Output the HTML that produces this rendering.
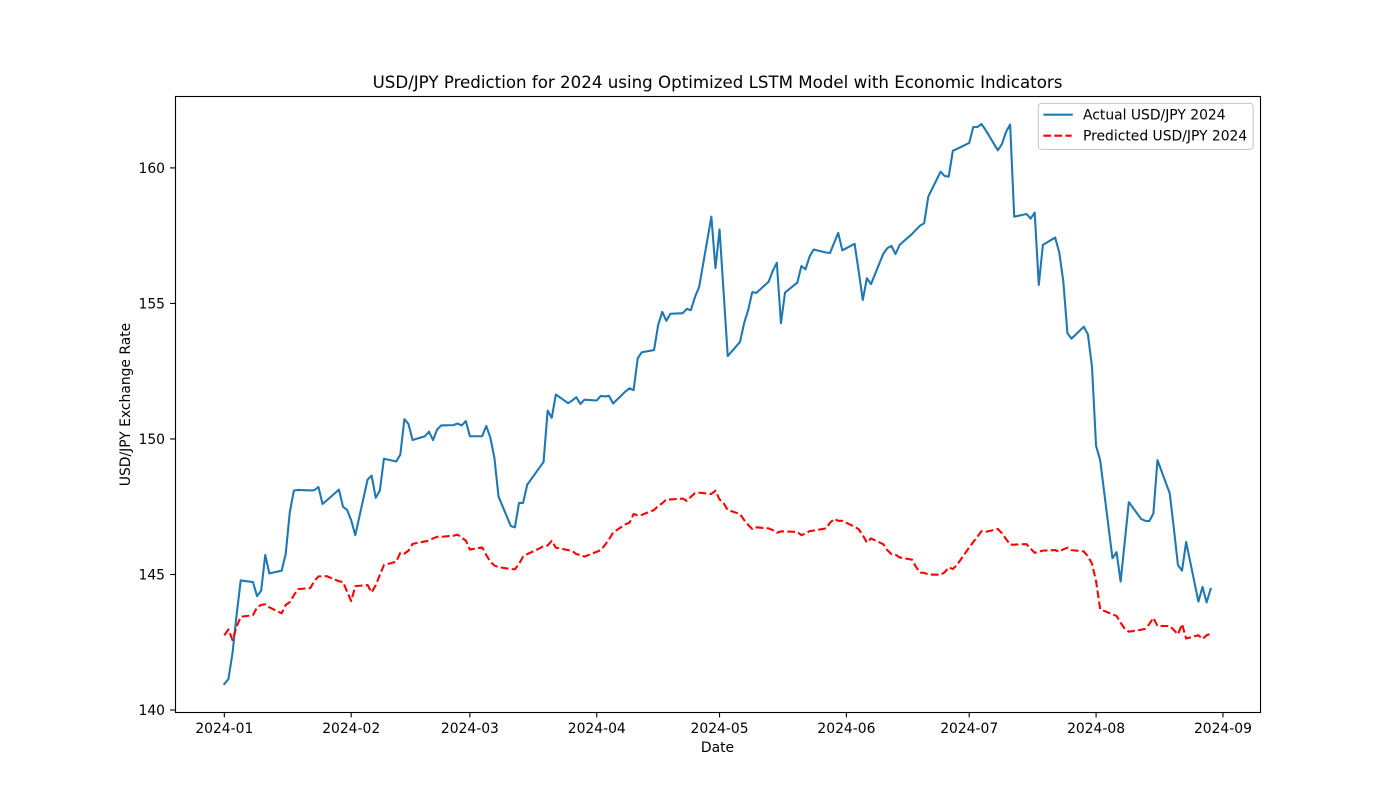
<!DOCTYPE html>
<html lang="en">
<head>
<meta charset="utf-8">
<title>USD/JPY Prediction for 2024</title>
<style>
  html, body { margin: 0; padding: 0; background: #fff; }
  svg { display: block; font-family: "DejaVu Sans", "Liberation Sans", sans-serif; fill: #000; }
</style>
</head>
<body>
<svg id="chart" width="1400" height="800" viewBox="0 0 1400 800" xmlns="http://www.w3.org/2000/svg">
  <rect x="0" y="0" width="1400" height="800" fill="#ffffff"/>
  <text x="717.5" y="88" font-size="16.67" text-anchor="middle">USD/JPY Prediction for 2024 using Optimized LSTM Model with Economic Indicators</text>
  <g id="ticks"></g>
  <g id="series"></g>
  <rect x="175.5" y="96.5" width="1085" height="616" fill="none" stroke="#000" stroke-width="1.11"/>
  <text x="717.5" y="752" font-size="13.89" text-anchor="middle">Date</text>
  <text x="0" y="0" font-size="13.89" text-anchor="middle" transform="translate(130 404.5) rotate(-90)">USD/JPY Exchange Rate</text>
  <g>
    <rect x="1038.4" y="103.4" width="214.8" height="46" rx="3" ry="3" fill="#fff" fill-opacity="0.8" stroke="#cccccc" stroke-width="1.11"/>
    <line x1="1044.4" y1="114.7" x2="1071.7" y2="114.7" stroke="#1f77b4" stroke-width="2.08" stroke-linecap="square"/>
    <text x="1083" y="119.5" font-size="13.89">Actual USD/JPY 2024</text>
    <line x1="1043.4" y1="135.7" x2="1071.7" y2="135.7" stroke="#ff0000" stroke-width="2.08" stroke-dasharray="7.7 3.33"/>
    <text x="1083" y="140.5" font-size="13.89">Predicted USD/JPY 2024</text>
  </g>
</svg>
<script>
const dayOfYear = [
  0,1,2,3,4, 7,8,9,10,11, 14,15,16,17,18, 21,22,23,24,25, 28,29,30,31,32,
  35,36,37,38,39, 42,43,44,45,46, 49,50,51,52,53, 56,57,58,59,60,
  63,64,65,66,67, 70,71,72,73,74, 77,78,79,80,81, 84,85,86,87,88,
  91,92,93,94,95, 98,99,100,101,102, 105,106,107,108,109, 112,113,114,115,116,
  119,120,121,122,123, 126,127,128,129,130, 133,134,135,136,137, 140,141,142,143,144,
  147,148,149,150,151, 154,155,156,157,158, 161,162,163,164,165, 168,169,170,171,172,
  175,176,177,178,179, 182,183,184,185,186, 189,190,191,192,193, 196,197,198,199,200,
  203,204,205,206,207, 210,211,212,213,214, 217,218,219,220,221, 224,225,226,227,228,
  231,232,233,234,235, 238,239,240,241
];
const actualValues = [
  140.96,141.14,142.1,143.5,144.78,
  144.72,144.2,144.4,145.72,145.04,
  145.14,145.76,147.3,148.1,148.12,
  148.1,148.11,148.23,147.6,147.73,
  148.13,147.5,147.38,147.0,146.45,
  148.5,148.65,147.83,148.1,149.27,
  149.17,149.42,150.73,150.55,149.96,
  150.1,150.27,149.96,150.35,150.5,
  150.51,150.57,150.5,150.66,150.1,
  150.1,150.48,150.05,149.29,147.87,
  146.79,146.74,147.64,147.64,148.31,
  148.94,149.15,151.05,150.78,151.64,
  151.32,151.42,151.54,151.29,151.45,
  151.42,151.59,151.57,151.59,151.31,
  151.75,151.87,151.8,152.97,153.2,
  153.28,154.2,154.69,154.36,154.62,
  154.64,154.8,154.75,155.24,155.6,
  158.2,156.3,157.73,155.4,153.06,
  153.58,154.27,154.76,155.42,155.39,
  155.8,156.2,156.5,154.27,155.4,
  155.77,156.38,156.26,156.73,156.99,
  156.88,156.86,157.24,157.6,156.96,
  157.2,156.18,155.13,155.93,155.71,
  156.83,157.04,157.12,156.82,157.16,
  157.56,157.72,157.87,157.96,158.94,
  159.86,159.7,159.68,160.63,160.7,
  160.92,161.51,161.51,161.62,161.4,
  160.65,160.88,161.33,161.6,158.2,
  158.3,158.13,158.35,155.68,157.16,
  157.43,156.88,155.8,153.9,153.7,
  154.14,153.86,152.67,149.74,149.22,
  145.6,145.82,144.74,146.2,147.67,
  147.05,146.98,146.97,147.25,149.22,
  147.99,146.7,145.35,145.14,146.2,
  144.0,144.54,143.97,144.47
];
const predictedValues = [
  142.76,142.97,142.58,143.07,143.44,
  143.5,143.79,143.88,143.9,143.79,
  143.57,143.88,143.98,144.24,144.46,
  144.5,144.76,144.93,144.93,144.94,
  144.75,144.72,144.37,144.02,144.57,
  144.61,144.34,144.61,144.98,145.35,
  145.47,145.8,145.77,145.88,146.13,
  146.22,146.25,146.33,146.39,146.39,
  146.43,146.47,146.36,146.25,145.92,
  146.0,145.72,145.47,145.33,145.27,
  145.2,145.19,145.39,145.66,145.75,
  145.96,146.05,146.07,146.24,145.99,
  145.9,145.87,145.75,145.72,145.66,
  145.84,145.9,146.09,146.3,146.55,
  146.85,146.91,147.23,147.18,147.2,
  147.38,147.53,147.63,147.77,147.77,
  147.8,147.72,147.87,148.0,148.02,
  147.97,148.09,147.77,147.63,147.38,
  147.23,147.01,146.83,146.68,146.74,
  146.7,146.64,146.54,146.59,146.59,
  146.57,146.45,146.51,146.6,146.62,
  146.7,146.91,147.05,146.98,146.98,
  146.76,146.67,146.45,146.18,146.33,
  146.12,145.9,145.75,145.73,145.63,
  145.55,145.28,145.07,145.06,145.0,
  144.99,145.08,145.26,145.2,145.35,
  146.0,146.2,146.39,146.6,146.57,
  146.68,146.52,146.31,146.1,146.1,
  146.12,145.96,145.8,145.84,145.88,
  145.9,145.84,145.93,145.99,145.9,
  145.85,145.67,145.4,144.75,143.72,
  143.53,143.47,143.22,143.0,142.89,
  142.96,143.0,143.17,143.4,143.1,
  143.1,142.95,142.79,143.17,142.64,
  142.76,142.62,142.76,142.81
];
const xTickDays = [0,31,60,91,121,152,182,213,244];
const xTickLabels = ['2024-01','2024-02','2024-03','2024-04','2024-05','2024-06','2024-07','2024-08','2024-09'];
const yTickValues = [140,145,150,155,160];

const NS = 'http://www.w3.org/2000/svg';
const plot = { left: 175, right: 1260, top: 96, bottom: 712 };
const xDomain = [-12.05, 253.05];
const yDomain = [139.927, 162.653];

function xScale(day) {
  return plot.left + (day - xDomain[0]) / (xDomain[1] - xDomain[0]) * (plot.right - plot.left);
}
function yScale(value) {
  return plot.bottom - (value - yDomain[0]) / (yDomain[1] - yDomain[0]) * (plot.bottom - plot.top);
}
function linePath(values) {
  return values.map(function (v, i) {
    return (i ? 'L' : 'M') + xScale(dayOfYear[i]).toFixed(2) + ' ' + yScale(v).toFixed(2);
  }).join(' ');
}

const tickLayer = document.getElementById('ticks');
const seriesLayer = document.getElementById('series');

xTickDays.forEach(function (day, i) {
  const x = xScale(day);
  const tick = document.createElementNS(NS, 'line');
  
  
  tick.setAttribute('x1', x);
  tick.setAttribute('x2', x);
  tick.setAttribute('y1', plot.bottom);
  tick.setAttribute('y2', plot.bottom + 5.4);
  tick.setAttribute('stroke', '#000');
  tick.setAttribute('stroke-width', '1.11');
  tickLayer.appendChild(tick);
  const label = document.createElementNS(NS, 'text');
  
  
  label.setAttribute('x', x);
  label.setAttribute('y', 733);
  label.setAttribute('font-size', '13.89');
  label.setAttribute('text-anchor', 'middle');
  label.textContent = xTickLabels[i];
  tickLayer.appendChild(label);
});

yTickValues.forEach(function (value) {
  const y = yScale(value);
  const tick = document.createElementNS(NS, 'line');
  
  
  tick.setAttribute('x1', plot.left - 4.9);
  tick.setAttribute('x2', plot.left);
  tick.setAttribute('y1', y);
  tick.setAttribute('y2', y);
  tick.setAttribute('stroke', '#000');
  tick.setAttribute('stroke-width', '1.11');
  tickLayer.appendChild(tick);
  const label = document.createElementNS(NS, 'text');
  
  
  label.setAttribute('x', 165);
  label.setAttribute('y', y + 5);
  label.setAttribute('font-size', '13.89');
  label.setAttribute('text-anchor', 'end');
  label.textContent = String(value);
  tickLayer.appendChild(label);
});

const actualLine = document.createElementNS(NS, 'path');


actualLine.setAttribute('d', linePath(actualValues));
actualLine.setAttribute('fill', 'none');
actualLine.setAttribute('stroke', '#1f77b4');
actualLine.setAttribute('stroke-width', '2.08');
actualLine.setAttribute('stroke-linejoin', 'round');
actualLine.setAttribute('stroke-linecap', 'square');
seriesLayer.appendChild(actualLine);

const predictedLine = document.createElementNS(NS, 'path');


predictedLine.setAttribute('d', linePath(predictedValues));
predictedLine.setAttribute('fill', 'none');
predictedLine.setAttribute('stroke', '#ff0000');
predictedLine.setAttribute('stroke-width', '2.08');
predictedLine.setAttribute('stroke-linejoin', 'round');
predictedLine.setAttribute('stroke-dasharray', '7.7 3.33');
seriesLayer.appendChild(predictedLine);
</script>
</body>
</html>
